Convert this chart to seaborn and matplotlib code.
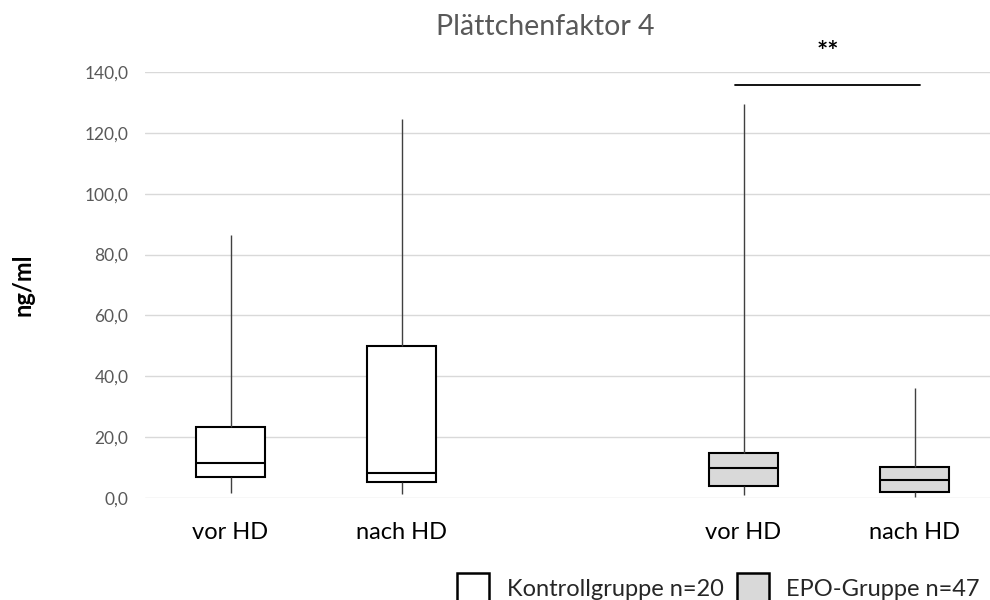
import numpy as np
import pandas as pd
import matplotlib
matplotlib.use("Agg")
import matplotlib.pyplot as plt
from matplotlib.patches import Patch
import seaborn as sns

# ---- data (five-number summaries) ----
categories = ["K_vor", "K_nach", "gap", "E_vor", "E_nach"]
tick_labels = ["vor HD", "nach HD", "", "vor HD", "nach HD"]
box_categories = ["K_vor", "K_nach", "E_vor", "E_nach"]
box_groups = ["Kontrollgruppe n=20", "Kontrollgruppe n=20", "EPO-Gruppe n=47", "EPO-Gruppe n=47"]
mins = [1.6, 1.2, 1.1, 0.3]
q1s = [6.8, 5.3, 4.0, 1.9]
medians = [11.5, 8.2, 9.7, 5.8]
q3s = [23.2, 50.1, 14.9, 10.2]
maxs = [86.4, 124.6, 129.4, 36.0]
group_names = ["Kontrollgruppe n=20", "EPO-Gruppe n=47"]
group_colors = ["#ffffff", "#d9d9d9"]
sig_label = "**"
sig_level = 135.7
title = "Plättchenfaktor 4"
ylabel = "ng/ml"

rows = []
for cat, grp, a, b, c, d, e in zip(box_categories, box_groups, mins, q1s, medians, q3s, maxs):
    for v in (a, b, c, d, e):
        rows.append({"cat": cat, "grp": grp, "val": v})
df = pd.DataFrame(rows)

sns.set_theme(style="white")
plt.rcParams["font.family"] = ["Lato", "DejaVu Sans"]

fig = plt.figure(figsize=(9.9, 6.0), dpi=100)
ax = fig.add_axes([145 / 990, 1 - 498 / 600, 855 / 990, 426 / 600])

sns.boxplot(
    data=df, x="cat", y="val", hue="grp", order=categories, hue_order=group_names,
    palette=dict(zip(group_names, group_colors)), saturation=1, dodge=False,
    width=0.4, whis=(0, 100), linecolor="black", linewidth=1.5,
    showcaps=False, showfliers=False,
    whiskerprops=dict(color="#404040", linewidth=1.0),
    medianprops=dict(color="black", linewidth=1.5),
    legend=False, ax=ax,
)

ax.set_xlim(-0.5, 4.5)
ax.set_ylim(0, 140)
ax.set_yticks(np.arange(0, 141, 20))
ax.set_yticklabels([f"{v:.1f}".replace(".", ",") for v in np.arange(0, 141, 20)],
                   color="#595959", fontsize=12.5)
ax.set_xticks(range(len(categories)))
ax.set_xticklabels(tick_labels, fontsize=17, color="black")
ax.tick_params(axis="x", length=0, pad=17)
ax.tick_params(axis="y", length=0, pad=12)
ax.yaxis.grid(True, color="#d9d9d9", linewidth=1.0)
ax.xaxis.grid(False)
ax.set_axisbelow(True)
for s in ax.spines.values():
    s.set_visible(False)
ax.set_xlabel("")
ax.set_ylabel("")

# significance bar between EPO boxes
x0 = categories.index("E_vor") - 0.05
x1 = categories.index("E_nach") + 0.035
ax.plot([x0, x1], [sig_level, sig_level], color="black", linewidth=1.3, clip_on=False)
ax.text((x0 + x1) / 2, sig_level + 11, sig_label, ha="center", va="center",
        fontsize=19, color="black", fontweight="bold")

fig.text(545 / 990, 1 - 27 / 600, title, ha="center", va="center", fontsize=20.5, color="#595959")
fig.text(23 / 990, 1 - 285 / 600, ylabel, ha="center", va="center", rotation=90,
         fontsize=17, color="black", fontweight="bold")

handles = [Patch(facecolor=c, edgecolor="black", linewidth=1.8) for c in group_colors]
fig.legend(handles, group_names, loc="upper left", bbox_to_anchor=(448 / 990, 1 - 564 / 600),
           ncol=2, frameon=False, fontsize=17, handlelength=1.35, handleheight=1.6,
           columnspacing=0.55, handletextpad=0.75, borderaxespad=0)

fig.savefig("out.png", dpi=100)
